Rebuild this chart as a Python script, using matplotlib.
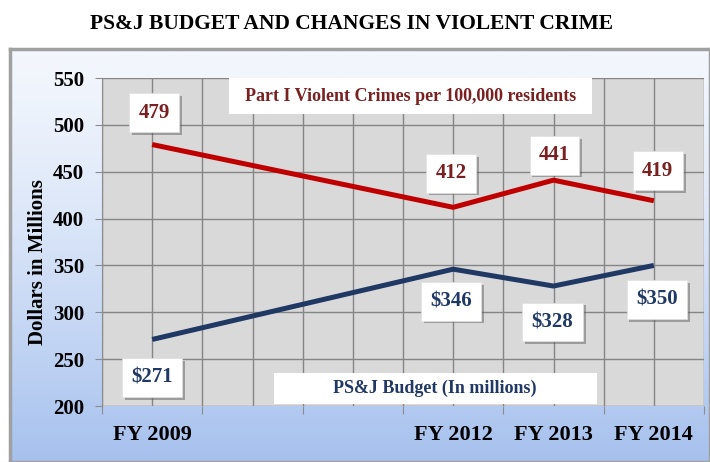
import numpy as np
import matplotlib
matplotlib.use("Agg")
import matplotlib.pyplot as plt
import matplotlib.patheffects as pe
from matplotlib.patches import Rectangle

# data
years = [2009, 2012, 2013, 2014]
year_labels = ["FY 2009", "FY 2012", "FY 2013", "FY 2014"]
crime = [479, 412, 441, 419]
budget = [271, 346, 328, 350]

# label offsets in pixels (dx, dy) - styling only
crime_off = [(2, 32), (-2, 34), (1, 25), (4, 30)]
budget_off = [(0, -38), (-2, -32), (-1, -36), (3, -34)]

serif = ["Liberation Serif", "DejaVu Serif"]
red = "#c00000"
navy = "#1f3864"
dark_red = "#7a2020"

fig = plt.figure(figsize=(7.1, 4.62), dpi=100)
fig.patch.set_facecolor("white")

# outer frame with blue gradient
bg = fig.add_axes([10 / 710, 0, 1 - 10 / 710, (462 - 49) / 462])
grad = np.linspace(0, 1, 256).reshape(-1, 1) ** 1.3
bg.imshow(grad, aspect="auto", extent=[0, 1, 0, 1],
          cmap=matplotlib.colors.LinearSegmentedColormap.from_list("g", ["#f3f7fd", "#a6c1ee"]))
bg.set_xticks([])
bg.set_yticks([])
for s in bg.spines.values():
    s.set_color("#a0a0a0")
    s.set_linewidth(2.5)
bg.set_zorder(0)

ax = fig.add_axes([102 / 710, (462 - 406) / 462, 602 / 710, 328 / 462])
ax.set_zorder(1)
ax.set_facecolor("#d9d9d9")
ax.set_xlim(2008.5, 2014.5)
ax.set_ylim(200, 550)

ax.plot(years, crime, color=red, lw=3.6, solid_capstyle="butt", zorder=3)
ax.plot(years, budget, color=navy, lw=3.6, solid_capstyle="butt", zorder=3)

ax.set_yticks(np.arange(200, 551, 50))
ax.set_xticks(np.arange(2008.5, 2014.6, 1.0))
ax.set_xticklabels([])
ax.set_xticks(list(years) + [2010, 2011], minor=True)
ax.set_xticklabels(year_labels + ["", ""], minor=True)
ax.tick_params(axis="x", which="major", length=6, color="#8c8c8c", direction="out")
ax.tick_params(axis="x", which="minor", length=0, pad=14)
ax.tick_params(axis="y", length=5, color="#8c8c8c", pad=8)
for lab in ax.get_xticklabels(minor=True):
    lab.set_fontfamily(serif)
    lab.set_fontweight("bold")
    lab.set_fontsize(16)
for lab in ax.get_yticklabels():
    lab.set_fontfamily(serif)
    lab.set_fontweight("bold")
    lab.set_fontsize(15)

ax.grid(True, which="both", color="#858585", lw=1)
ax.set_axisbelow(True)
for s in ax.spines.values():
    s.set_visible(False)
ax.spines["left"].set_visible(True)
ax.spines["left"].set_color("#8c8c8c")


def data_label(x, y, txt, off, color):
    t = ax.annotate(txt, (x, y), xytext=off, textcoords="offset pixels",
                    ha="center", va="center", fontsize=15, fontweight="bold",
                    family=serif, color=color, zorder=5,
                    bbox=dict(boxstyle="square,pad=0.45", fc="white", ec="#e0e0e0", lw=0.5))
    t.get_bbox_patch().set_path_effects([pe.withSimplePatchShadow(offset=(2, -2), shadow_rgbFace="#606060", alpha=0.5)])


for x, v, o in zip(years, crime, crime_off):
    data_label(x, v, str(v), o, dark_red)
for x, v, o in zip(years, budget, budget_off):
    data_label(x, v, "\\$" + str(v), o, navy)

# series name boxes
ax.add_patch(Rectangle((0.211, 0.890), 0.603, 0.110, transform=ax.transAxes,
                       fc="white", ec="none", zorder=4))
ax.text(0.512, 0.945, "Part I Violent Crimes per 100,000 residents", transform=ax.transAxes,
        ha="center", va="center", fontsize=13, fontweight="bold", family=serif, color=dark_red, zorder=5)
ax.add_patch(Rectangle((0.286, 0.006), 0.536, 0.095, transform=ax.transAxes,
                       fc="white", ec="none", zorder=4))
ax.text(0.553, 0.053, "PS&J Budget (In millions)", transform=ax.transAxes,
        ha="center", va="center", fontsize=13, fontweight="bold", family=serif, color=navy, zorder=5)

fig.text(38 / 710, 1 - 262 / 462, "Dollars in Millions", rotation=90, ha="center", va="center",
         fontsize=15, fontweight="bold", family=serif)
fig.text(351 / 710, 1 - 24 / 462, "PS&J BUDGET AND CHANGES IN VIOLENT CRIME", ha="center", va="center",
         fontsize=15.5, fontweight="bold", family=serif)

fig.savefig("out.png", dpi=100)
